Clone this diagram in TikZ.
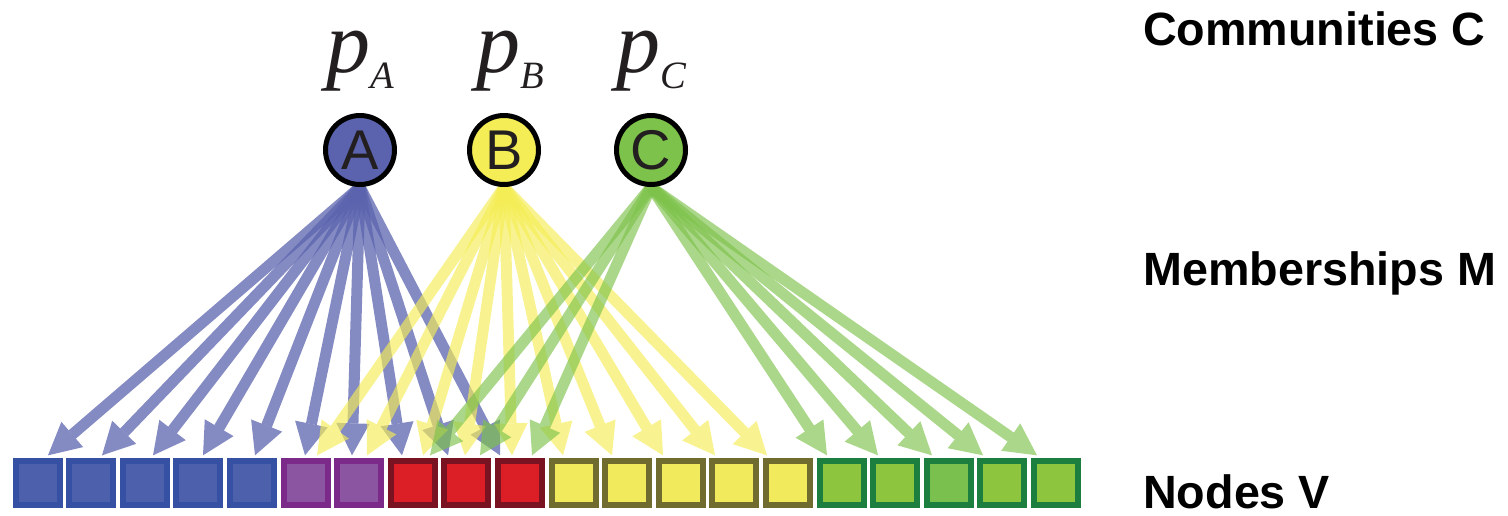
\documentclass[tikz,border=0pt]{standalone}
\usepackage{fontspec}
\setmainfont{Liberation Sans}
\newfontfamily\timesfont{Liberation Serif}
\usetikzlibrary{arrows.meta,backgrounds}

\definecolor{commA}{HTML}{5B63AE}
\definecolor{commB}{HTML}{F4ED55}
\definecolor{commC}{HTML}{7DC24A}
\definecolor{inkC}{HTML}{231F20}
\definecolor{blueF}{HTML}{4C60AC}
\definecolor{blueD}{HTML}{3651A3}
\definecolor{purpF}{HTML}{8B55A2}
\definecolor{purpD}{HTML}{7B2A8A}
\definecolor{redF}{HTML}{DC1F26}
\definecolor{redD}{HTML}{7A1321}
\definecolor{yelF}{HTML}{F1EA5C}
\definecolor{yelD}{HTML}{706C2F}
\definecolor{grnF}{HTML}{8DC53F}
\definecolor{grnG}{HTML}{79C04F}
\definecolor{grnD}{HTML}{1D7F3F}

\tikzset{
  community/.style={circle, draw=black, line width=3.75pt, minimum size=51.75pt, inner sep=0pt,
    text=inkC, font=\fontsize{42}{42}\selectfont},
  prob/.style={anchor=base, inner sep=0pt, text=inkC},
  vertex/.style={rectangle, line width=4.5pt, minimum size=33pt, inner sep=0pt},
  member/.style={line width=8.25pt, opacity=0.75, -{Triangle[length=24pt,width=25pt,line width=0pt]}},
  layer/.style={anchor=base west, inner sep=0pt, font=\fontsize{35}{35}\selectfont\bfseries},
}
\newcommand{\plab}[1]{{\timesfont\itshape\fontsize{66}{66}\selectfont p\raisebox{-12pt}{\fontsize{29}{29}\selectfont #1}}}

\begin{document}
\begin{tikzpicture}[x=0.75pt,y=-0.75pt]
\useasboundingbox (0,0) rectangle (1508,515);

% Communities
\node[community, fill=commA] (A) at (360,150) {A};
\node[community, fill=commB] (B) at (504,150) {B};
\node[community, fill=commC] (C) at (651,150) {C};

\node[prob] (pA) at (360,72) {\plab{A}};
\node[prob] (pB) at (510,72) {\plab{B}};
\node[prob] (pC) at (651,72) {\plab{C}};

% Nodes
\foreach \i/\fc/\bc in {1/blueF/blueD, 2/blueF/blueD, 3/blueF/blueD, 4/blueF/blueD, 5/blueF/blueD,
    6/purpF/purpD, 7/purpF/purpD, 8/redF/redD, 9/redF/redD, 10/redF/redD,
    11/yelF/yelD, 12/yelF/yelD, 13/yelF/yelD, 14/yelF/yelD, 15/yelF/yelD,
    16/grnF/grnD, 17/grnF/grnD, 18/grnG/grnD, 19/grnF/grnD, 20/grnF/grnD}
  \node[vertex, fill=\fc, draw=\bc] (v\i) at ({37.5+53.6*(\i-1)},483) {};

% Memberships
\begin{scope}[on background layer]
\foreach \i/\dx in {1/10.5, 2/10.9, 3/8.3, 4/4.7, 5/3.1, 6/-0.5, 7/-7.1, 8/-10.7, 9/-18.3, 10/-19.9}
  \draw[member, color=commA] (A.south) -- ([xshift=\dx*0.75pt, yshift=2pt]v\i.north);
\foreach \i/\dx in {6/11.5, 7/7.9, 8/10.3, 9/-1.3, 10/-7.9, 11/-10.5, 12/-15.1, 13/-17.7, 14/-19.3, 15/-20.9}
  \draw[member, color=commB, opacity=0.65] (B.south) -- ([xshift=\dx*0.75pt, yshift=2pt]v\i.north);
\foreach \i/\dx in {8/17.3, 9/13.7, 10/12.1, 16/-14.5, 17/-17.1, 18/-16.7, 19/-19.3, 20/-18.9}
  \draw[member, color=commC, opacity=0.65] (C.south) -- ([xshift=\dx*0.75pt, yshift=2pt]v\i.north);
\end{scope}

% Layers
\node[layer] (lC) at (1143,45) {Communities C};
\node[layer] (lM) at (1143,285) {Memberships M};
\node[layer] (lV) at (1143,508) {Nodes V};
\end{tikzpicture}
\end{document}
